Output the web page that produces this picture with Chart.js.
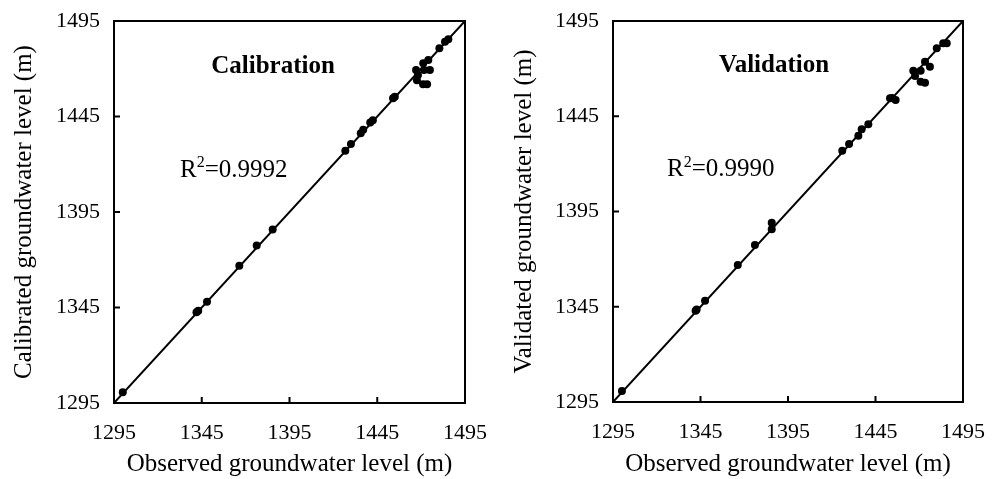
<!DOCTYPE html>
<html>
<head>
<meta charset="utf-8">
<script src="https://cdn.jsdelivr.net/npm/chart.js@4/dist/chart.umd.min.js"></script>
<style>
  body { margin: 0; background: #fff; }
  .wrap { display: flex; width: 1000px; height: 479px; }
  canvas { display: block; }
</style>
</head>
<body>
<div class="wrap">
  <canvas id="calChart" width="500" height="479"></canvas>
  <canvas id="valChart" width="500" height="479"></canvas>
</div>
<script>
// tick labels shared by both axes of both panels
const tickValues = [1295, 1345, 1395, 1445, 1495];

// Calibration: observed vs calibrated groundwater level (m)
const calObserved = [1300, 1342, 1343, 1348, 1366.4, 1376.3, 1385.4, 1426.8, 1430, 1435.6, 1437, 1441, 1442.5,
  1454, 1455, 1467.1, 1468.2, 1467.6, 1471.1, 1473.4, 1475, 1471.7, 1471.2, 1474.1, 1480.4, 1483.6, 1485.5];
const calSimulated = [1300.6, 1342.5, 1343.3, 1348, 1366.9, 1377.4, 1385.9, 1427.1, 1430.6, 1436.2, 1438, 1441.8, 1443,
  1454.5, 1455.3, 1469.3, 1466.7, 1464, 1461.9, 1461.9, 1469.3, 1469.3, 1472.9, 1474.6, 1480.7, 1484.2, 1485.4];

// Validation: observed vs validated groundwater level (m)
const valObserved = [1300.1, 1342.2, 1342.8, 1347.6, 1366.3, 1376.1, 1385.7, 1385.7, 1426, 1429.9, 1435.2, 1437.1, 1440.9,
  1453.3, 1454.5, 1456.5, 1466.6, 1470.8, 1467.6, 1470.8, 1473.3, 1473.3, 1476.1, 1480, 1483.7, 1485.7];
const valSimulated = [1300.8, 1342.9, 1343.5, 1348.2, 1366.9, 1377.4, 1389.1, 1385.7, 1426.9, 1430.4, 1434.8, 1438.2, 1440.8,
  1454.4, 1454.6, 1453.5, 1468.9, 1468.9, 1466.1, 1463.1, 1462.6, 1473.6, 1471, 1480.7, 1483.3, 1483.3];

// 1:1 line end points
const lineX = [1295, 1495];
const lineY = [1295, 1495];

const serif = "'Liberation Serif', 'Times New Roman', serif";

// frame, inward ticks and the in-plot labels
const framePlugin = {
  id: 'frame',
  afterDraw(chart, args, opts) {
    const { ctx, chartArea: a, scales } = chart;
    ctx.save();
    ctx.strokeStyle = '#000';
    ctx.lineWidth = 2;
    ctx.strokeRect(a.left, a.top, a.right - a.left, a.bottom - a.top);
    ctx.beginPath();
    tickValues.forEach(v => {
      const px = scales.x.getPixelForValue(v);
      ctx.moveTo(px, a.bottom);
      ctx.lineTo(px, a.bottom - 6);
      const py = scales.y.getPixelForValue(v);
      ctx.moveTo(a.left, py);
      ctx.lineTo(a.left + 6, py);
    });
    ctx.stroke();

    ctx.fillStyle = '#000';
    ctx.textBaseline = 'middle';
    ctx.textAlign = 'center';
    ctx.font = 'bold 25px ' + serif;
    ctx.fillText(opts.title, scales.x.getPixelForValue(opts.titleAt[0]), scales.y.getPixelForValue(opts.titleAt[1]));

    ctx.textAlign = 'left';
    const rx = scales.x.getPixelForValue(opts.r2At[0]);
    const ry = scales.y.getPixelForValue(opts.r2At[1]);
    ctx.font = '25px ' + serif;
    ctx.fillText('R', rx, ry);
    let w = ctx.measureText('R').width;
    ctx.font = '16px ' + serif;
    ctx.fillText('2', rx + w, ry - 7);
    w += ctx.measureText('2').width;
    ctx.font = '25px ' + serif;
    ctx.fillText('=' + opts.r2, rx + w, ry);
    ctx.restore();
  }
};

function makeChart(id, obs, sim, yTitle, plotLeft, plotBottom, rightPad, title, r2, titleAt, r2At) {
  const points = obs.map((x, i) => ({ x: x, y: sim[i] }));
  const line = lineX.map((x, i) => ({ x: x, y: lineY[i] }));
  return new Chart(document.getElementById(id), {
    type: 'scatter',
    data: {
      datasets: [
        {
          data: line,
          showLine: true,
          borderColor: '#000',
          borderWidth: 2,
          pointRadius: 0
        },
        {
          data: points,
          backgroundColor: '#000',
          borderColor: '#000',
          pointRadius: 4,
          borderWidth: 0
        }
      ]
    },
    options: {
      responsive: false,
      animation: false,
      layout: { padding: { top: 21, right: rightPad, left: 0, bottom: 0 } },
      plugins: {
        legend: { display: false },
        tooltip: { enabled: false },
        frame: { title: title, r2: r2, titleAt: titleAt, r2At: r2At }
      },
      scales: {
        x: {
          type: 'linear',
          min: 1295,
          max: 1495,
          afterBuildTicks: s => { s.ticks = tickValues.map(v => ({ value: v })); },
          afterFit: s => {
            s.height = 479 - plotBottom;
            s.paddingLeft = 0;
            s.paddingRight = 0;
          },
          grid: { display: false, drawTicks: false },
          border: { display: false },
          ticks: {
            color: '#000', font: { family: serif, size: 22 }, padding: 17, maxRotation: 0,
            callback: v => String(v)
          },
          title: {
            display: true,
            text: 'Observed groundwater level (m)',
            color: '#000',
            font: { family: serif, size: 25 },
            padding: { top: 0, bottom: 0 }
          }
        },
        y: {
          type: 'linear',
          min: 1295,
          max: 1495,
          afterBuildTicks: s => { s.ticks = tickValues.map(v => ({ value: v })); },
          afterFit: s => {
            s.width = plotLeft;
            s.paddingTop = 0;
            s.paddingBottom = 0;
          },
          grid: { display: false, drawTicks: false },
          border: { display: false },
          ticks: {
            color: '#000', font: { family: serif, size: 22 }, padding: 14,
            callback: v => String(v)
          },
          title: {
            display: true,
            text: yTitle,
            color: '#000',
            font: { family: serif, size: 25 },
            padding: { top: 9, bottom: 0 }
          }
        }
      }
    },
    plugins: [framePlugin]
  });
}

makeChart('calChart', calObserved, calSimulated, 'Calibrated groundwater level (m)',
  114, 403, 35, 'Calibration', '0.9992', [1385.6, 1471.4], [1332.6, 1417]);
makeChart('valChart', valObserved, valSimulated, 'Validated groundwater level (m)',
  113, 402, 37, 'Validation', '0.9990', [1387, 1471.4], [1325.9, 1417]);
</script>
</body>
</html>
